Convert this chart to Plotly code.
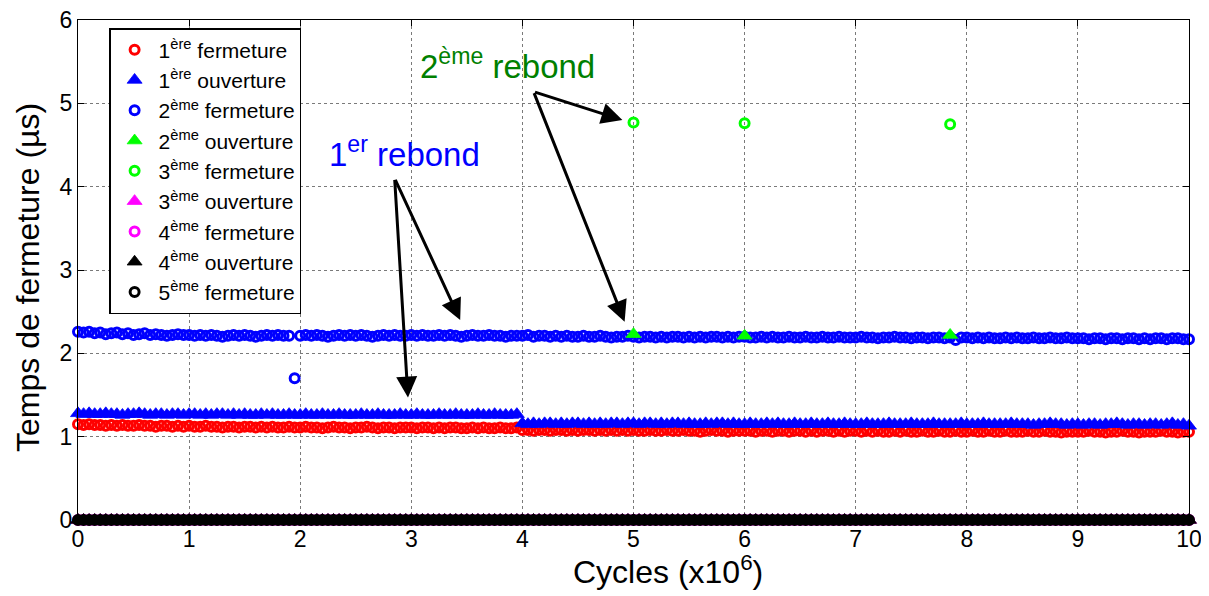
import numpy as np
import plotly.graph_objects as go

# Cycles (x10^6), one measurement every 50 000 cycles
cycles = np.round(np.linspace(0, 10, 201), 2)

# 1ère fermeture (µs)
ferm1 = [
    1.15, 1.14, 1.15, 1.14, 1.14, 1.13, 1.14, 1.13, 1.14, 1.13, 1.13, 1.14, 1.13, 1.13, 1.12, 1.13, 1.13, 1.12, 1.13, 1.12,
    1.13, 1.12, 1.12, 1.13, 1.12, 1.12, 1.11, 1.12, 1.12, 1.11, 1.12, 1.12, 1.11, 1.12, 1.11, 1.12, 1.11, 1.11, 1.12, 1.11,
    1.11, 1.12, 1.11, 1.11, 1.10, 1.11, 1.12, 1.11, 1.11, 1.10, 1.11, 1.11, 1.12, 1.11, 1.10, 1.11, 1.11, 1.10, 1.11, 1.11,
    1.11, 1.10, 1.11, 1.11, 1.10, 1.11, 1.10, 1.11, 1.11, 1.10, 1.10, 1.11, 1.10, 1.11, 1.10, 1.10, 1.11, 1.10, 1.10, 1.11,
    1.08, 1.08, 1.07, 1.08, 1.08, 1.07, 1.08, 1.08, 1.07, 1.08, 1.07, 1.08, 1.08, 1.07, 1.08, 1.07, 1.08, 1.07, 1.08, 1.07,
    1.08, 1.07, 1.07, 1.08, 1.07, 1.07, 1.08, 1.07, 1.07, 1.08, 1.07, 1.07, 1.06, 1.07, 1.08, 1.07, 1.07, 1.06, 1.07, 1.07,
    1.07, 1.07, 1.06, 1.07, 1.07, 1.06, 1.07, 1.07, 1.06, 1.07, 1.07, 1.06, 1.07, 1.06, 1.07, 1.07, 1.06, 1.07, 1.06, 1.07,
    1.07, 1.06, 1.07, 1.06, 1.07, 1.06, 1.06, 1.07, 1.06, 1.07, 1.06, 1.06, 1.07, 1.06, 1.06, 1.07, 1.06, 1.06, 1.07, 1.06,
    1.06, 1.07, 1.06, 1.06, 1.07, 1.06, 1.06, 1.07, 1.06, 1.06, 1.06, 1.07, 1.06, 1.06, 1.07, 1.06, 1.06, 1.05, 1.06, 1.06,
    1.06, 1.06, 1.07, 1.06, 1.06, 1.05, 1.06, 1.06, 1.07, 1.06, 1.06, 1.05, 1.06, 1.06, 1.06, 1.07, 1.06, 1.06, 1.05, 1.06,
    1.06,
]

# 1ère ouverture (µs)
ouv1 = [
    1.28, 1.27, 1.28, 1.27, 1.27, 1.28, 1.27, 1.27, 1.26, 1.27, 1.27, 1.28, 1.27, 1.26, 1.27, 1.27, 1.26, 1.27, 1.27, 1.26,
    1.27, 1.27, 1.26, 1.27, 1.26, 1.27, 1.27, 1.26, 1.27, 1.26, 1.27, 1.26, 1.26, 1.27, 1.26, 1.27, 1.26, 1.26, 1.27, 1.26,
    1.26, 1.27, 1.26, 1.26, 1.27, 1.26, 1.26, 1.27, 1.26, 1.26, 1.26, 1.27, 1.26, 1.26, 1.27, 1.26, 1.26, 1.26, 1.27, 1.26,
    1.26, 1.27, 1.26, 1.26, 1.26, 1.27, 1.26, 1.26, 1.27, 1.26, 1.26, 1.26, 1.27, 1.26, 1.26, 1.27, 1.26, 1.26, 1.26, 1.27,
    1.16, 1.15, 1.16, 1.15, 1.16, 1.16, 1.15, 1.16, 1.15, 1.16, 1.16, 1.15, 1.16, 1.15, 1.16, 1.15, 1.16, 1.16, 1.15, 1.16,
    1.16, 1.15, 1.16, 1.16, 1.15, 1.16, 1.15, 1.16, 1.16, 1.15, 1.16, 1.15, 1.15, 1.16, 1.15, 1.16, 1.16, 1.15, 1.16, 1.15,
    1.15, 1.16, 1.15, 1.15, 1.16, 1.15, 1.16, 1.15, 1.15, 1.16, 1.15, 1.15, 1.16, 1.15, 1.15, 1.16, 1.15, 1.15, 1.16, 1.15,
    1.15, 1.15, 1.16, 1.15, 1.15, 1.15, 1.16, 1.15, 1.15, 1.15, 1.16, 1.15, 1.15, 1.15, 1.16, 1.15, 1.15, 1.15, 1.15, 1.16,
    1.15, 1.15, 1.15, 1.16, 1.15, 1.15, 1.15, 1.15, 1.16, 1.15, 1.15, 1.15, 1.14, 1.15, 1.15, 1.16, 1.15, 1.15, 1.14, 1.15,
    1.15, 1.14, 1.15, 1.15, 1.14, 1.15, 1.15, 1.16, 1.15, 1.14, 1.15, 1.15, 1.14, 1.15, 1.15, 1.14, 1.15, 1.16, 1.14, 1.15,
    1.13,
]

# 2ème fermeture (µs)
ferm2 = [
    2.26, 2.25, 2.26, 2.24, 2.25, 2.23, 2.24, 2.25, 2.23, 2.24, 2.22, 2.23, 2.24, 2.22, 2.23, 2.22, 2.21, 2.22, 2.23, 2.22,
    2.22, 2.21, 2.22, 2.21, 2.22, 2.21, 2.20, 2.21, 2.22, 2.21, 2.22, 2.21, 2.20, 2.21, 2.22, 2.21, 2.22, 2.21, 2.21, 1.70,
    2.21, 2.22, 2.21, 2.22, 2.21, 2.20, 2.21, 2.22, 2.21, 2.22, 2.21, 2.22, 2.21, 2.20, 2.21, 2.22, 2.21, 2.22, 2.21, 2.21,
    2.22, 2.21, 2.22, 2.21, 2.21, 2.22, 2.21, 2.22, 2.21, 2.20, 2.21, 2.22, 2.21, 2.21, 2.22, 2.21, 2.21, 2.20, 2.21, 2.21,
    2.21, 2.22, 2.20, 2.21, 2.21, 2.20, 2.21, 2.20, 2.21, 2.20, 2.20, 2.21, 2.20, 2.20, 2.21, 2.20, 2.19, 2.20, 2.20, 2.21,
    2.20, 2.19, 2.20, 2.20, 2.19, 2.20, 2.19, 2.20, 2.20, 2.19, 2.20, 2.19, 2.20, 2.19, 2.20, 2.20, 2.19, 2.20, 2.19, 2.20,
    2.20, 2.19, 2.19, 2.20, 2.19, 2.20, 2.19, 2.19, 2.20, 2.19, 2.19, 2.20, 2.19, 2.19, 2.20, 2.19, 2.19, 2.20, 2.19, 2.19,
    2.19, 2.20, 2.19, 2.19, 2.18, 2.19, 2.19, 2.20, 2.19, 2.19, 2.18, 2.19, 2.19, 2.18, 2.19, 2.19, 2.18, 2.19, 2.16, 2.19,
    2.19, 2.18, 2.19, 2.18, 2.19, 2.18, 2.18, 2.19, 2.18, 2.19, 2.18, 2.18, 2.19, 2.18, 2.18, 2.19, 2.18, 2.18, 2.19, 2.18,
    2.18, 2.18, 2.17, 2.18, 2.18, 2.17, 2.18, 2.18, 2.17, 2.18, 2.18, 2.17, 2.18, 2.17, 2.18, 2.18, 2.17, 2.18, 2.18, 2.17,
    2.17,
]

# 2ème ouverture and 3ème fermeture only appear a few times
rebond2_cycles = [5.0, 6.0, 7.85]
ouv2 = [2.23, 2.21, 2.22]
ferm3 = [4.77, 4.76, 4.75]

# 3ème ouverture, 4ème fermeture, 4ème ouverture, 5ème fermeture: no bounce (0 µs)
ouv3 = [0.0] * 201
ferm4 = [0.0] * 201
ouv4 = [0.0] * 201
ferm5 = [0.0] * 201

tick_vals_x = [0, 1, 2, 3, 4, 5, 6, 7, 8, 9, 10]
tick_vals_y = [0, 1, 2, 3, 4, 5, 6]

font = "Liberation Sans, Arial, sans-serif"

fig = go.Figure()


def add_series(x, y, name, color, symbol):
    if symbol == "circle-open":
        marker = dict(symbol="circle-open", size=9, color=color, line=dict(width=3, color=color))
    else:
        marker = dict(symbol="triangle-up", size=13, color=color, line=dict(width=0.8, color=color))
    fig.add_trace(go.Scatter(x=x, y=y, name=name, mode="markers", marker=marker, cliponaxis=False))


add_series(cycles, ferm1, "1<sup>ère</sup> fermeture", "#ff0000", "circle-open")
add_series(cycles, ouv1, "1<sup>ère</sup> ouverture", "#0000ff", "triangle")
add_series(cycles, ferm2, "2<sup>ème</sup> fermeture", "#0000ff", "circle-open")
add_series(rebond2_cycles, ouv2, "2<sup>ème</sup> ouverture", "#00ff00", "triangle")
add_series(rebond2_cycles, ferm3, "3<sup>ème</sup> fermeture", "#00ff00", "circle-open")
add_series(cycles, ouv3, "3<sup>ème</sup> ouverture", "#ff00ff", "triangle")
add_series(cycles, ferm4, "4<sup>ème</sup> fermeture", "#ff00ff", "circle-open")
add_series(cycles, ferm5, "5<sup>ème</sup> fermeture", "#000000", "circle-open")
add_series(cycles, ouv4, "4<sup>ème</sup> ouverture", "#000000", "triangle")

# keep legend order as in the original
order = [0, 1, 2, 3, 4, 5, 6, 8, 7]
for rank, idx in enumerate(order):
    fig.data[idx].legendrank = rank

# arrows (tail -> head, in data coords)
arrows = [
    (2.85, 4.10, 2.97, 1.47),
    (2.85, 4.10, 3.44, 2.40),
    (4.10, 5.14, 4.90, 4.80),
    (4.10, 5.14, 4.92, 2.38),
]
for ax_, ay_, x_, y_ in arrows:
    fig.add_annotation(x=x_, y=y_, ax=ax_, ay=ay_, xref="x", yref="y", axref="x", ayref="y",
                       text="", showarrow=True, arrowhead=2, arrowsize=1.4, arrowwidth=3,
                       arrowcolor="black")

fig.add_annotation(x=2.94, y=4.42, text="1<sup>er</sup> rebond", showarrow=False,
                   font=dict(family=font, size=33, color="#0000ff"))
fig.add_annotation(x=3.87, y=5.47, text="2<sup>ème</sup> rebond", showarrow=False,
                   font=dict(family=font, size=33, color="#008000"))

# axis titles as annotations, placed like the original
fig.add_annotation(x=-0.045, y=0.484, xref="paper", yref="paper", xanchor="center", yanchor="middle",
                   text="Temps de fermeture (µs)", textangle=-90, showarrow=False,
                   font=dict(family=font, size=32, color="black"))
fig.add_annotation(x=0.531, y=-0.1, xref="paper", yref="paper", xanchor="center", yanchor="middle",
                   text="Cycles (x10<sup>6</sup>)", showarrow=False,
                   font=dict(family=font, size=32, color="black"))

axis_style = dict(showline=True, linecolor="black", linewidth=1, mirror="ticks",
                  ticks="inside", ticklen=6, tickcolor="black", automargin=False,
                  ticklabeloverflow="allow",
                  showgrid=True, gridcolor="#7a7a7a", griddash="dot", gridwidth=1,
                  zeroline=False, tickfont=dict(family=font, size=23, color="black"))

fig.update_xaxes(range=[0, 10], tickvals=tick_vals_x, ticklabelstandoff=-2, **axis_style)
fig.update_yaxes(range=[0, 6], tickvals=tick_vals_y, **axis_style)

# page body has an 8px margin, so the figure is drawn 8px in from the window corner
fig.update_layout(
    width=1201, height=588,
    margin=dict(l=70, r=20, t=12, b=76),
    plot_bgcolor="white", paper_bgcolor="white",
    font=dict(family=font, color="black"),
    legend=dict(x=0.028, y=0.984, xanchor="left", yanchor="top",
                bgcolor="white", bordercolor="black", borderwidth=1.5,
                font=dict(family=font, size=21, color="black"), itemwidth=38,
                tracegroupgap=0),
)

fig.write_html("out.html")
